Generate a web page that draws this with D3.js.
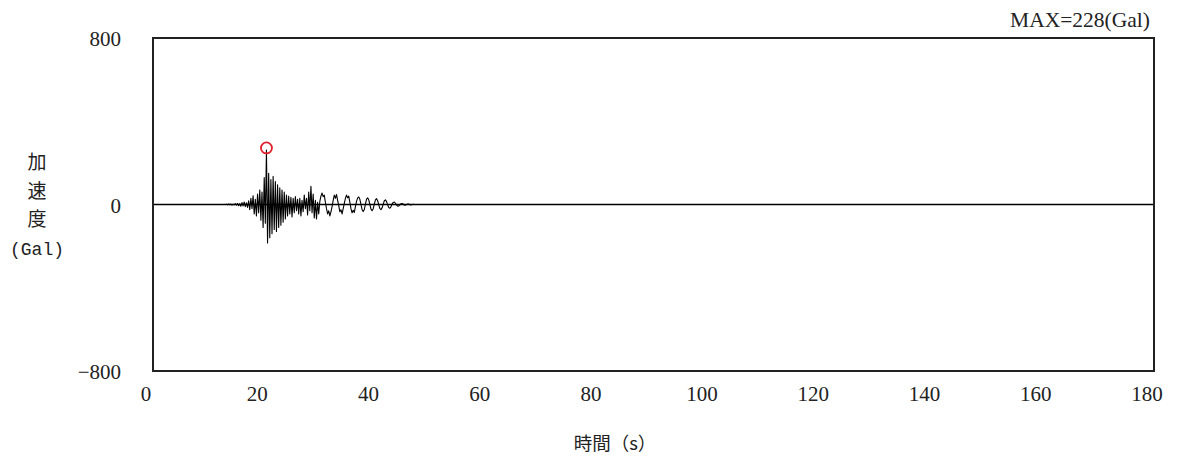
<!DOCTYPE html>
<html>
<head>
<meta charset="utf-8">
<script src="https://cdn.jsdelivr.net/npm/d3@7"></script>
<style>
  html, body { margin: 0; padding: 0; background: #fff; }
  svg { display: block; }
</style>
</head>
<body>
<svg id="chart" width="1179" height="463"></svg>
<script>
// ---- data ----
const xTicks = [0, 20, 40, 60, 80, 100, 120, 140, 160, 180];
const yTicks = [800, 0, -800];
const xDomain = [0, 180];
const yDomain = [-800, 800];
const t0 = 13.0;      // start time of samples (s)
const dt = 0.2;       // sample step (s)
const accel = [
  0, 1, -1, 2, -1, 2, -3, 2, -2, 4,
  -3, 5, -6, 4, -8, 9, -7, 12, -10, 8,
  -14, 18, -25, 30, -20, 42, -45, 25, -55, 50,
  -40, 70, -75, 60, -110, 130, -90, 262, -185, 150,
  -160, 120, -140, 135, -120, 110, -130, 95, -110, 80,
  -100, 70, -85, 60, -70, 45, -55, 40, -45, 35,
  -60, 30, -40, 38, -30, 25, -45, 30, -55, 20,
  -35, 45, -20, 30, -50, 60, -30, 88, -40, 50,
  -65, 20, -70, 10, -45, 15, 40, 55, 38, 45,
  10, -20, -45, -30, -55, -35, -10, 20, 45, 30,
  48, 20, -5, -35, -25, -45, -20, 5, 30, 45,
  32, 40, 10, -20, -40, -28, -38, -10, 15, 32,
  36, 25, 0, -25, -34, -24, 2, 26, 32, 22,
  0, -22, -30, -20, 2, 22, 28, 18, -2, -20,
  -25, -16, 2, 18, 22, 14, -2, -15, -18, -10,
  2, 10, 12, 6, -3, -8, -7, -2, 4, 5,
  2, -3, -3, 0, 2, 2, -1, -2, 0, 1,
  0
];
const maxLabel = "MAX=228(Gal)";
const yLabelChars = ["加", "速", "度", "(Gal)"];
const xLabel = "時間（s）";

// ---- layout ----
const svg = d3.select("#chart");
const L = 153, R = 1154, T = 38, B = 371;

const x = d3.scaleLinear().domain(xDomain).range([L, R]);
const y = d3.scaleLinear().domain(yDomain).range([B, T]);

const samples = accel.map((v, i) => ({ t: t0 + i * dt, a: v }));

// zero line
svg.append("line")
  .attr("x1", x(xDomain[0])).attr("x2", x(xDomain[1]))
  .attr("y1", y(0)).attr("y2", y(0))
  .attr("stroke", "#000").attr("stroke-width", 1.4);

// waveform
const line = d3.line().x(d => x(d.t)).y(d => y(d.a));
svg.append("path")
  .datum(samples)
  .attr("d", line)
  .attr("fill", "none")
  .attr("stroke", "#000")
  .attr("stroke-width", 1.1)
  .attr("stroke-linejoin", "round");

// max marker
const peak = samples.reduce((m, d) => Math.abs(d.a) > Math.abs(m.a) ? d : m, samples[0]);
svg.append("circle")
  .attr("cx", x(peak.t)).attr("cy", y(peak.a) - 2)
  .attr("r", 5.5)
  .attr("fill", "none")
  .attr("stroke", "#e0202a")
  .attr("stroke-width", 1.8);

// frame
svg.append("rect")
  .attr("x", L).attr("y", T)
  .attr("width", R - L).attr("height", B - T)
  .attr("fill", "none")
  .attr("stroke", "#222")
  .attr("stroke-width", 2);

// x tick labels
const serif = "'Liberation Serif', 'DejaVu Serif', serif";
svg.append("g").selectAll("text")
  .data(xTicks).join("text")
  .attr("x", d => x(d) - 7)
  .attr("y", 401)
  .attr("text-anchor", "middle")
  .attr("font-family", serif)
  .attr("font-size", 21)
  .attr("fill", "#222")
  .text(d => d);

// y tick labels
svg.append("g").selectAll("text")
  .data(yTicks).join("text")
  .attr("x", 121)
  .attr("y", d => y(d) + 8)
  .attr("text-anchor", "end")
  .attr("font-family", serif)
  .attr("font-size", 21)
  .attr("fill", "#222")
  .text(d => d === 0 ? "0" : (d < 0 ? "\u2212" + Math.abs(d) : d));

// y label (stacked)
svg.append("g").selectAll("text")
  .data(yLabelChars).join("text")
  .attr("x", 37)
  .attr("y", (d, i) => 169 + i * 28.5)
  .attr("text-anchor", "middle")
  .attr("font-family", (d, i) => i < 3 ? "'Noto Sans CJK JP', sans-serif" : "'Liberation Mono', monospace")
  .attr("font-size", (d, i) => i < 3 ? 19 : 18)
  .attr("fill", "#222")
  .text(d => d);

// x label
svg.append("text")
  .attr("x", 615).attr("y", 450)
  .attr("text-anchor", "middle")
  .attr("font-family", "'Noto Sans CJK JP', sans-serif")
  .attr("font-size", 18.5)
  .attr("fill", "#222")
  .text(xLabel);

// max label
svg.append("text")
  .attr("x", 1150).attr("y", 27)
  .attr("text-anchor", "end")
  .attr("font-family", serif)
  .attr("font-size", 21.5)
  .attr("fill", "#222")
  .text(maxLabel);
</script>
</body>
</html>
